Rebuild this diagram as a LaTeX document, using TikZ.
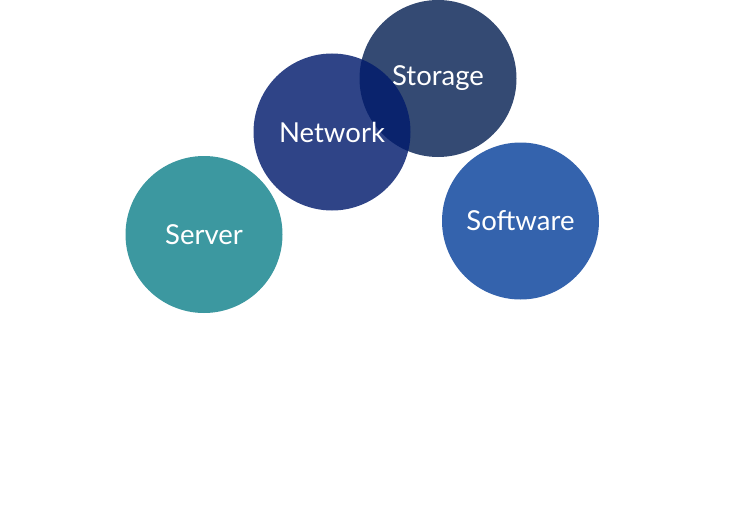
\documentclass[tikz,border=0pt]{standalone}
\usepackage{fontspec}
\setmainfont{Lato}
\definecolor{serverc}{HTML}{3C98A0}
\definecolor{networkc}{HTML}{011B6D}
\definecolor{storagec}{HTML}{011D50}
\definecolor{softwarec}{HTML}{3463AD}
\begin{document}
\begin{tikzpicture}[x=1pt,y=-1pt,
  bubble/.style={circle,minimum size=157pt,inner sep=0pt,text=white,font=\fontsize{27.5}{30}\selectfont}]
\useasboundingbox (0,0) rectangle (750,511);
\node[bubble,fill=storagec,fill opacity=0.8,text opacity=1] (storage) at (438,78.5) {Storage};
\node[bubble,fill=networkc,fill opacity=0.82,text opacity=1] (network) at (332,132) {Network};
\node[bubble,fill=serverc] (server) at (204,234.5) {Server};
\node[bubble,fill=softwarec] (software) at (520.5,221) {Software};
\end{tikzpicture}
\end{document}
